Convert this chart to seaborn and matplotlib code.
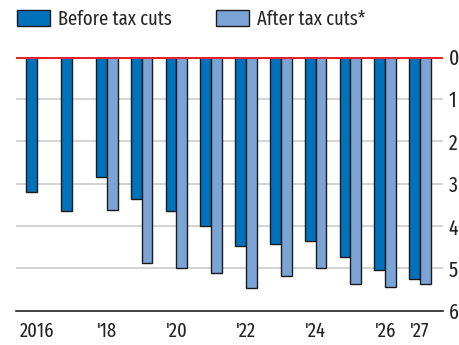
import matplotlib
matplotlib.use("Agg")
import matplotlib.pyplot as plt
import seaborn as sns
import pandas as pd
import numpy as np
from matplotlib.patches import Patch

years = ["2016", "2017", "2018", "2019", "2020", "2021", "2022", "2023", "2024", "2025", "2026", "2027"]
before = [3.2, 3.65, 2.85, 3.36, 3.65, 4.0, 4.47, 4.43, 4.35, 4.73, 5.03, 5.24]
after = [np.nan, np.nan, 3.62, 4.88, 4.98, 5.1, 5.46, 5.18, 4.98, 5.37, 5.44, 5.37]
tick_labels = ["2016", "", "'18", "", "'20", "", "'22", "", "'24", "", "'26", "'27"]
series_names = ["Before tax cuts", "After tax cuts*"]
colors = ["#0072BB", "#7BA3D6"]

sns.set_theme(style="white")
plt.rcParams['font.family'] = ['Fira Sans Extra Condensed', 'DejaVu Sans']
FS = 15.5
LFS = 14.5

df = pd.DataFrame({
    "year": years * 2,
    "value": before + after,
    "series": [series_names[0]] * len(years) + [series_names[1]] * len(years),
})

fig = plt.figure(figsize=(4.6, 3.45), dpi=100)
ax = fig.add_axes([0.0348, 0.0994, 0.963 - 0.0348, 0.8357 - 0.0994])

sns.barplot(data=df, x="year", y="value", hue="series", order=years,
            hue_order=series_names, palette=colors, width=0.62, dodge=True,
            edgecolor="#1a1a1a", linewidth=1.0, ax=ax, legend=False, errorbar=None,
            saturation=1)

ax.set_ylim(6, 0)
ax.set_xlim(-0.61, 11.66)
ax.set_yticks(range(0, 7))
ax.set_yticklabels([str(i) for i in range(0, 7)])
ax.yaxis.tick_right()
ax.tick_params(axis="y", length=0, labelsize=FS, pad=4, colors="#222222")
ax.set_xticks(range(len(years)))
ax.set_xticklabels(tick_labels)
ax.tick_params(axis="x", length=6, width=1, direction="out", labelsize=14.5, colors="#222222", pad=2)
ax.set_xlabel("")
ax.set_ylabel("")
for y in range(1, 6):
    ax.axhline(y, color="#cccccc", lw=1.2, zorder=0)
ax.axhline(0, color="#e8202a", lw=2.2, zorder=5)
for s in ["left", "right", "top"]:
    ax.spines[s].set_visible(False)
ax.spines["bottom"].set_color("#222222")
ax.spines["bottom"].set_linewidth(1.2)
ax.set_axisbelow(True)

handles = [Patch(facecolor=c, edgecolor="#1a1a1a", linewidth=1.0) for c in colors]
fig.legend(handles, series_names, loc="upper left", bbox_to_anchor=(17 / 460, 1 - 9 / 345),
           ncol=2, frameon=False, fontsize=LFS, handlelength=1.64, handleheight=0.85,
           handletextpad=0.4, columnspacing=2.2, borderaxespad=0, borderpad=0)

fig.savefig("out.png", dpi=100)
